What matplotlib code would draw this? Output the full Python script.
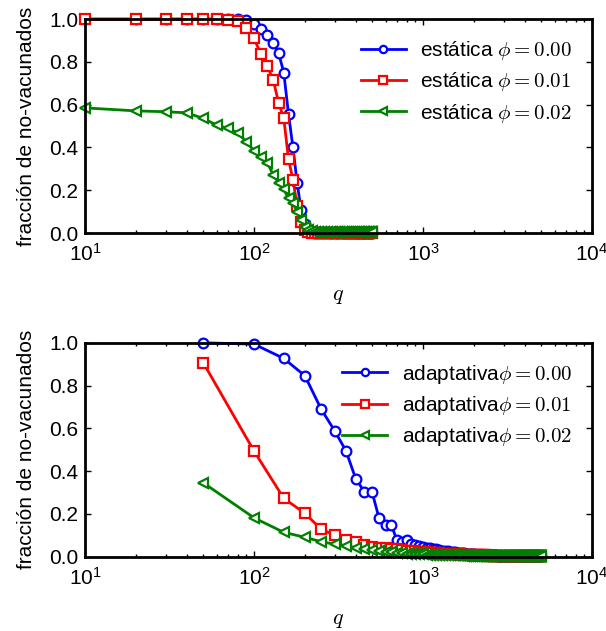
import numpy as np
import matplotlib
matplotlib.use('Agg')
import matplotlib.pyplot as plt

# static immunization, q = 10 .. 500
q_est = np.arange(10, 501, 10)
est_000 = [1.0, 1.0, 1.0, 1.0, 1.0, 1.0, 1.0, 1.0,
           0.995, 0.977, 0.953, 0.925, 0.888, 0.84, 0.75, 0.556, 0.40,
           0.234, 0.107, 0.04, 0.012, 0.004, 0.001] + [0.0] * 27
est_001 = [1.0, 1.0, 1.0, 1.0, 1.0, 1.0,
           0.995, 0.99, 0.96, 0.91, 0.835, 0.78, 0.715, 0.607, 0.537,
           0.345, 0.25, 0.127, 0.05, 0.015, 0.005, 0.001] + [0.0] * 28
est_002 = [0.585, 0.571, 0.567, 0.562, 0.536, 0.505, 0.489, 0.469, 0.427,
           0.385, 0.357, 0.329, 0.271, 0.235, 0.204, 0.162, 0.139, 0.10,
           0.061, 0.03, 0.014, 0.008, 0.005] + [0.005] * 27

# adaptive immunization, q = 50 .. 5000
q_ada = np.arange(50, 5001, 50)
ada_000 = [1.0, 0.994, 0.927, 0.846, 0.689, 0.589, 0.495, 0.364, 0.304,
           0.301, 0.179, 0.150, 0.148, 0.078, 0.07, 0.078, 0.06, 0.055,
           0.05, 0.047, 0.042, 0.04, 0.036, 0.034, 0.03, 0.028, 0.026,
           0.025, 0.023, 0.022, 0.02, 0.019, 0.018, 0.017, 0.016, 0.015,
           0.014, 0.013, 0.012, 0.011, 0.010, 0.010, 0.009, 0.009, 0.008,
           0.008, 0.008, 0.007, 0.007, 0.007, 0.006, 0.006, 0.006, 0.006,
           0.005, 0.005, 0.005, 0.005, 0.005, 0.005] + [0.004] * 40
ada_001 = [0.908, 0.494, 0.273, 0.203, 0.128, 0.101, 0.078, 0.067, 0.055,
           0.047, 0.043, 0.04, 0.037, 0.034, 0.031, 0.029, 0.027, 0.025,
           0.023, 0.021, 0.020, 0.019, 0.018, 0.017, 0.016, 0.015, 0.014,
           0.013, 0.013, 0.012, 0.012, 0.011, 0.011, 0.010, 0.010, 0.009,
           0.009, 0.008, 0.008, 0.008, 0.007, 0.007, 0.007, 0.006, 0.006,
           0.006, 0.006, 0.005, 0.005, 0.005] + [0.004] * 50
ada_002 = [0.346, 0.182, 0.114, 0.091, 0.070, 0.059, 0.05, 0.042, 0.036,
           0.031, 0.027, 0.024, 0.021, 0.019, 0.017, 0.015, 0.014, 0.013,
           0.012, 0.011, 0.010, 0.010, 0.009, 0.009, 0.008, 0.008, 0.008,
           0.007, 0.007, 0.007, 0.006, 0.006, 0.006, 0.006, 0.005, 0.005,
           0.005, 0.005, 0.005, 0.005] + [0.004] * 60

phis = ['0.00', '0.01', '0.02']
colors = ['#0000ff', '#ff0000', '#008000']
markers = ['o', 's', '<']

plt.rcParams['font.family'] = ['Liberation Sans', 'DejaVu Sans']
plt.rcParams['mathtext.fontset'] = 'cm'
plt.rcParams['axes.linewidth'] = 2.0
plt.rcParams['xtick.direction'] = 'in'
plt.rcParams['ytick.direction'] = 'in'
plt.rcParams['xtick.top'] = True
plt.rcParams['ytick.right'] = True
plt.rcParams['xtick.major.size'] = 4
plt.rcParams['ytick.major.size'] = 4
plt.rcParams['xtick.minor.size'] = 2
plt.rcParams['ytick.minor.size'] = 2
plt.rcParams['xtick.major.pad'] = 7
plt.rcParams['ytick.major.pad'] = 5
plt.rcParams['font.size'] = 15

fig = plt.figure(figsize=(6.06, 6.31), dpi=100)
ax1 = fig.add_axes([0.1403, 0.6307, 0.8366, 0.339])
ax2 = fig.add_axes([0.1403, 0.1177, 0.8366, 0.339])


def draw(ax, q, series, prefix):
    for ys, phi, c, m in zip(series, phis, colors, markers):
        ax.plot(q, ys, color=c, marker=m, markersize=7, markeredgewidth=1.6,
                markerfacecolor='white', markeredgecolor=c, linewidth=2,
                label=prefix + r'$\phi=' + phi + '$', clip_on=False)
    ax.set_xscale('log')
    ax.set_xlim(10, 1e4)
    ax.set_ylim(0, 1.0)
    ax.set_yticks([0.0, 0.2, 0.4, 0.6, 0.8, 1.0])
    ax.set_yticklabels(['0.0', '0.2', '0.4', '0.6', '0.8', '1.0'])
    ax.tick_params(which='both', width=1)
    ax.set_xlabel(r'$q$', fontsize=16, labelpad=15)
    ax.set_ylabel('fracción de no-vacunados', fontsize=15, labelpad=9)
    ax.legend(loc='upper right', frameon=False, numpoints=1, fontsize=15,
              handlelength=2.15, handletextpad=0.7, labelspacing=0.4,
              borderaxespad=0.55, markerscale=0.75)


draw(ax1, q_est, [est_000, est_001, est_002], 'estática ')
draw(ax2, q_ada, [ada_000, ada_001, ada_002], 'adaptativa')

fig.savefig('out.png', dpi=100, facecolor='white')
